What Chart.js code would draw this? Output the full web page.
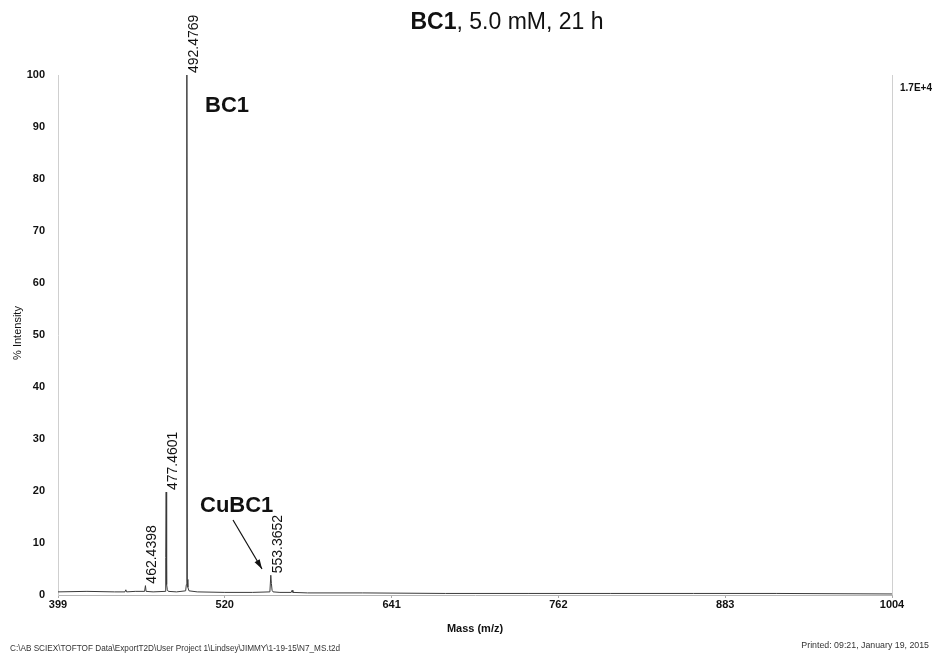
<!DOCTYPE html>
<html>
<head>
<meta charset="utf-8">
<script src="https://cdn.jsdelivr.net/npm/chart.js@4.4.1/dist/chart.umd.min.js"></script>
<style>
  html, body { margin: 0; padding: 0; background: #fff; }
  #wrap { width: 937px; height: 657px; }
</style>
</head>
<body>
<div id="wrap"><canvas id="msChart" width="937" height="657"></canvas></div>
<script>
// spectrum (m/z, % intensity)
const massValues = [399, 420, 440, 447.6, 448.2, 448.8, 455, 461.8, 462.44, 462.9, 468,
  476.7, 477.15, 477.46, 477.8, 478.3, 479, 485, 491.6, 492.1, 492.48, 492.8, 493.2, 494,
  500, 520, 540, 552.7, 553.37, 553.8, 554.3, 555, 560, 568.2, 568.8, 569.4, 580, 620,
  680, 740, 800, 860, 920, 1004];
const intensityValues = [0.6, 0.7, 0.6, 0.6, 1.0, 0.6, 0.7, 0.7, 1.8, 0.7, 0.6,
  0.7, 7.2, 19.8, 2.0, 1.0, 0.7, 0.6, 0.8, 2.0, 100, 3.0, 1.5, 0.8,
  0.6, 0.5, 0.5, 0.6, 3.8, 2.2, 0.9, 0.6, 0.5, 0.5, 0.9, 0.5, 0.4, 0.4,
  0.3, 0.3, 0.3, 0.3, 0.3, 0.2];

// labelled peaks
const peakMasses = [462.4398, 477.4601, 492.4769, 553.3652];
const peakHeights = [1.8, 19.8, 100, 3.8];

const xTicks = [399, 520, 641, 762, 883, 1004];
const yTicks = [0, 10, 20, 30, 40, 50, 60, 70, 80, 90, 100];

const FONT = '"Liberation Sans", Arial, Helvetica, sans-serif';

// text on top of the plot: title, peak labels, notes, footer
const msText = {
  id: 'msText',
  afterDatasetsDraw(chart) {
    const ctx = chart.ctx;
    const xs = chart.scales.x, ys = chart.scales.y;
    const area = chart.chartArea;
    ctx.save();
    ctx.fillStyle = '#111';

    // title: bold "BC1" + rest
    ctx.textBaseline = 'alphabetic';
    ctx.font = 'bold 23px ' + FONT;
    const boldPart = 'BC1';
    const restPart = ', 5.0 mM, 21 h';
    const w1 = ctx.measureText(boldPart).width;
    ctx.font = '23px ' + FONT;
    const w2 = ctx.measureText(restPart).width;
    let tx = 507 - (w1 + w2) / 2;
    ctx.font = 'bold 23px ' + FONT;
    ctx.textAlign = 'left';
    ctx.fillText(boldPart, tx, 29);
    ctx.font = '23px ' + FONT;
    ctx.fillText(restPart, tx + w1, 29);

    // rotated peak labels
    ctx.font = '14px ' + FONT;
    peakMasses.forEach((m, i) => {
      const px = xs.getPixelForValue(m) + 7;
      const py = ys.getPixelForValue(peakHeights[i]) - 2;
      ctx.save();
      ctx.translate(px, py);
      ctx.rotate(-Math.PI / 2);
      ctx.textAlign = 'left';
      ctx.textBaseline = 'middle';
      ctx.fillText(m.toFixed(4), 0, 0);
      ctx.restore();
    });

    // compound notes
    ctx.font = 'bold 22px ' + FONT;
    ctx.textAlign = 'left';
    ctx.textBaseline = 'alphabetic';
    ctx.fillText('BC1', 205, 112);
    ctx.fillText('CuBC1', 200, 512);

    // arrow to the Cu peak
    const ax0 = 233, ay0 = 520, ax1 = 262, ay1 = 569;
    ctx.strokeStyle = '#111';
    ctx.lineWidth = 1.2;
    ctx.beginPath();
    ctx.moveTo(ax0, ay0);
    ctx.lineTo(ax1, ay1);
    ctx.stroke();
    const ang = Math.atan2(ay1 - ay0, ax1 - ax0);
    ctx.beginPath();
    ctx.moveTo(ax1, ay1);
    ctx.lineTo(ax1 - 10 * Math.cos(ang - 0.3), ay1 - 10 * Math.sin(ang - 0.3));
    ctx.lineTo(ax1 - 10 * Math.cos(ang + 0.3), ay1 - 10 * Math.sin(ang + 0.3));
    ctx.closePath();
    ctx.fill();

    // right frame line + scale factor
    ctx.strokeStyle = '#d0d0d0';
    ctx.lineWidth = 1;
    ctx.beginPath();
    ctx.moveTo(area.right + 0.5, area.top);
    ctx.lineTo(area.right + 0.5, area.bottom);
    ctx.stroke();
    ctx.font = 'bold 10px ' + FONT;
    ctx.fillText('1.7E+4', 900, 91);

    // axis titles
    ctx.font = 'bold 11px ' + FONT;
    ctx.textAlign = 'center';
    ctx.fillText('Mass (m/z)', (area.left + area.right) / 2, 632);
    ctx.save();
    ctx.translate(21, 333);
    ctx.rotate(-Math.PI / 2);
    ctx.font = '11px ' + FONT;
    ctx.fillText('% Intensity', 0, 0);
    ctx.restore();

    // footer
    ctx.font = '8.2px ' + FONT;
    ctx.fillStyle = '#333';
    ctx.textAlign = 'left';
    ctx.fillText('C:\\AB SCIEX\\TOFTOF Data\\ExportT2D\\User Project 1\\Lindsey\\JIMMY\\1-19-15\\N7_MS.t2d', 10, 651);
    ctx.font = '8.8px ' + FONT;
    ctx.textAlign = 'right';
    ctx.fillText('Printed: 09:21, January 19, 2015', 929, 648);
    ctx.restore();
  }
};

const ctx = document.getElementById('msChart').getContext('2d');
new Chart(ctx, {
  type: 'line',
  data: {
    datasets: [{
      data: massValues.map((m, i) => ({ x: m, y: intensityValues[i] })),
      borderColor: '#3a3a3a',
      borderWidth: 1,
      pointRadius: 0,
      tension: 0,
      fill: false
    }]
  },
  options: {
    responsive: false,
    animation: false,
    devicePixelRatio: 1,
    layout: { padding: { top: 75, right: 45, left: 0, bottom: 0 } },
    plugins: { legend: { display: false }, tooltip: { enabled: false }, title: { display: false } },
    scales: {
      x: {
        type: 'linear',
        min: 399,
        max: 1004,
        afterBuildTicks: s => { s.ticks = xTicks.map(v => ({ value: v })); },
        afterFit: s => { s.height = 62; },
        ticks: {
          autoSkip: false, maxRotation: 0, color: '#111', padding: 0,
          font: { family: FONT, size: 11, weight: 'bold' },
          callback: v => String(v)
        },
        grid: { display: true, drawOnChartArea: false, drawTicks: true, tickLength: 3, color: '#aaa' },
        border: { display: true, color: '#b5b5b5', dash: [2, 2] }
      },
      y: {
        min: 0,
        max: 100,
        afterBuildTicks: s => { s.ticks = yTicks.map(v => ({ value: v })); },
        afterFit: s => { s.width = 58; },
        ticks: { color: '#111', padding: 5, font: { family: FONT, size: 11, weight: 'bold' } },
        grid: { display: false },
        border: { display: true, color: '#cfcfcf' }
      }
    }
  },
  plugins: [msText]
});
</script>
</body>
</html>
